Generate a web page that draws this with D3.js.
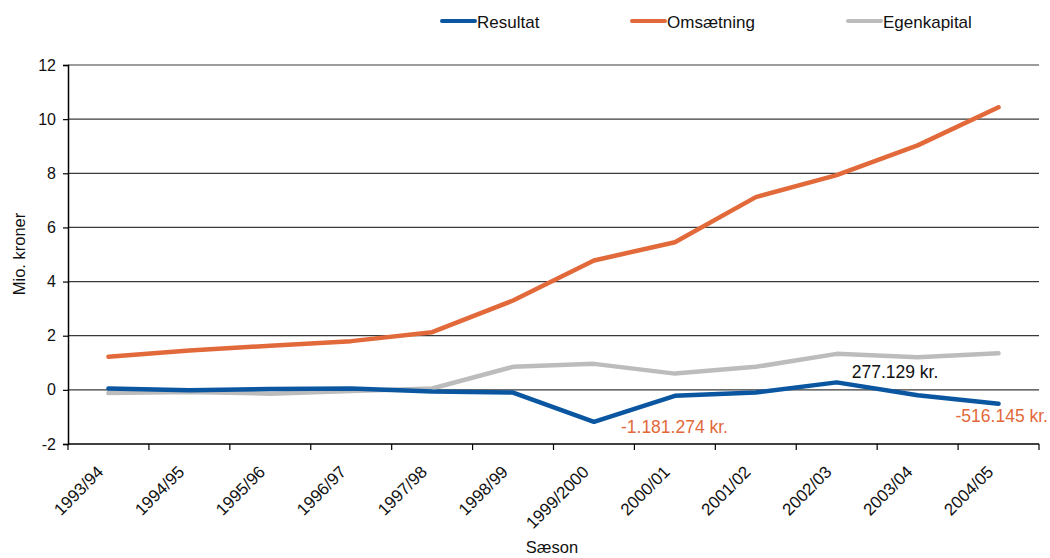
<!DOCTYPE html>
<html>
  <head>
    <meta charset="utf-8">
    <style>
      body { margin: 0; background: white; }
      text { font-family: "Liberation Sans", Arial, sans-serif; }
    </style>
  </head>
  <body>
    <script src="https://d3js.org/d3.v7.min.js"></script>
    <script>
      const seasons = ["1993/94", "1994/95", "1995/96", "1996/97", "1997/98", "1998/99",
        "1999/2000", "2000/01", "2001/02", "2002/03", "2003/04", "2004/05"];
      const resultat = [0.05, -0.01, 0.03, 0.05, -0.06, -0.1, -1.181, -0.22, -0.1, 0.277, -0.2, -0.516];
      const omsaetning = [1.22, 1.45, 1.63, 1.8, 2.13, 3.3, 4.78, 5.45, 7.12, 7.93, 9.03, 10.44];
      const egenkapital = [-0.12, -0.08, -0.14, -0.04, 0.05, 0.85, 0.96, 0.6, 0.85, 1.33, 1.2, 1.35];
      const yTicks = [-2, 0, 2, 4, 6, 8, 10, 12];

      const series = [
        { name: "Resultat", values: resultat, color: "#0a56a0" },
        { name: "Omsætning", values: omsaetning, color: "#e2693a" },
        { name: "Egenkapital", values: egenkapital, color: "#bcbcbc" }
      ];

      const width = 1050, height = 558;
      const margin = { top: 65, right: 11, bottom: 114, left: 68 };

      const svg = d3.select("body").append("svg")
        .attr("width", width)
        .attr("height", height);

      const x = d3.scaleBand()
        .domain(seasons)
        .range([margin.left, width - margin.right]);

      const y = d3.scaleLinear()
        .domain([-2, 12])
        .range([height - margin.bottom, margin.top]);

      // gridlines
      svg.append("g")
        .selectAll("line")
        .data(yTicks.filter(d => d > -2))
        .join("line")
        .attr("x1", margin.left)
        .attr("x2", width - margin.right)
        .attr("y1", d => y(d))
        .attr("y2", d => y(d))
        .attr("stroke", "#3a3a3a")
        .attr("stroke-width", 1.2);

      // y axis
      const yAxis = svg.append("g")
        .attr("transform", `translate(${margin.left},0)`)
        .call(d3.axisLeft(y).tickValues(yTicks).tickSize(5).tickFormat(d => String(d)));
      yAxis.select(".domain").attr("stroke", "#000").attr("stroke-width", 1.5);
      yAxis.selectAll(".tick line").attr("stroke", "#000").attr("stroke-width", 1.2);
      yAxis.selectAll("text")
        .attr("font-size", 16)
        .attr("fill", "#111")
        .attr("x", -12)
        .style("font-family", "Liberation Sans, Arial, sans-serif");

      // x axis with ticks at category boundaries
      const xAxis = svg.append("g")
        .attr("transform", `translate(0,${height - margin.bottom})`);
      xAxis.append("line")
        .attr("x1", margin.left)
        .attr("x2", width - margin.right)
        .attr("stroke", "#000")
        .attr("stroke-width", 1.5);
      xAxis.selectAll(".bt")
        .data(seasons.concat(["end"]))
        .join("line")
        .attr("class", "bt")
        .attr("x1", (d, i) => margin.left + i * x.step())
        .attr("x2", (d, i) => margin.left + i * x.step())
        .attr("y1", 0)
        .attr("y2", 6)
        .attr("stroke", "#000")
        .attr("stroke-width", 1.2);
      xAxis.selectAll(".lbl")
        .data(seasons)
        .join("text")
        .attr("class", "lbl")
        .attr("transform", d => `translate(${x(d) + x.bandwidth() / 2 - 4},${29}) rotate(-45)`)
        .attr("text-anchor", "end")
        .attr("font-size", 17)
        .attr("fill", "#111")
        .text(d => d);

      // lines
      const line = d3.line()
        .x((d, i) => x(seasons[i]) + x.bandwidth() / 2)
        .y(d => y(d));

      svg.append("g")
        .selectAll("path")
        .data([series[2], series[1], series[0]])
        .join("path")
        .attr("d", d => line(d.values))
        .attr("fill", "none")
        .attr("stroke", d => d.color)
        .attr("stroke-width", 4.5)
        .attr("stroke-linejoin", "round")
        .attr("stroke-linecap", "round");

      // value annotations
      const cx = i => x(seasons[i]) + x.bandwidth() / 2;
      svg.append("text")
        .attr("x", cx(6) + 27).attr("y", y(resultat[6]) + 11)
        .attr("font-size", 17.5).attr("fill", "#e2693a")
        .text("-1.181.274 kr.");
      svg.append("text")
        .attr("x", cx(9) + 15).attr("y", y(resultat[9]) - 4)
        .attr("font-size", 17.5).attr("fill", "#111")
        .text("277.129 kr.");
      svg.append("text")
        .attr("x", cx(11) - 43).attr("y", y(resultat[11]) + 18)
        .attr("font-size", 17.5).attr("fill", "#e2693a")
        .text("-516.145 kr.");

      // axis titles
      svg.append("text")
        .attr("transform", `translate(25,${254}) rotate(-90)`)
        .attr("text-anchor", "middle")
        .attr("font-size", 16.5)
        .attr("fill", "#111")
        .text("Mio. kroner");
      svg.append("text")
        .attr("x", 552).attr("y", 553)
        .attr("text-anchor", "middle")
        .attr("font-size", 16.5)
        .attr("fill", "#111")
        .text("Sæson");

      // legend
      const legendX = [442, 632, 848];
      const legend = svg.append("g")
        .selectAll("g")
        .data(series)
        .join("g")
        .attr("transform", (d, i) => `translate(${legendX[i]},21)`);
      legend.append("line")
        .attr("x1", 0).attr("x2", 33)
        .attr("stroke", d => d.color)
        .attr("stroke-width", 4)
        .attr("stroke-linecap", "round");
      legend.append("text")
        .attr("x", 35).attr("y", 7)
        .attr("font-size", 17)
        .attr("fill", "#111")
        .text(d => d.name);
    </script>
  </body>
</html>
